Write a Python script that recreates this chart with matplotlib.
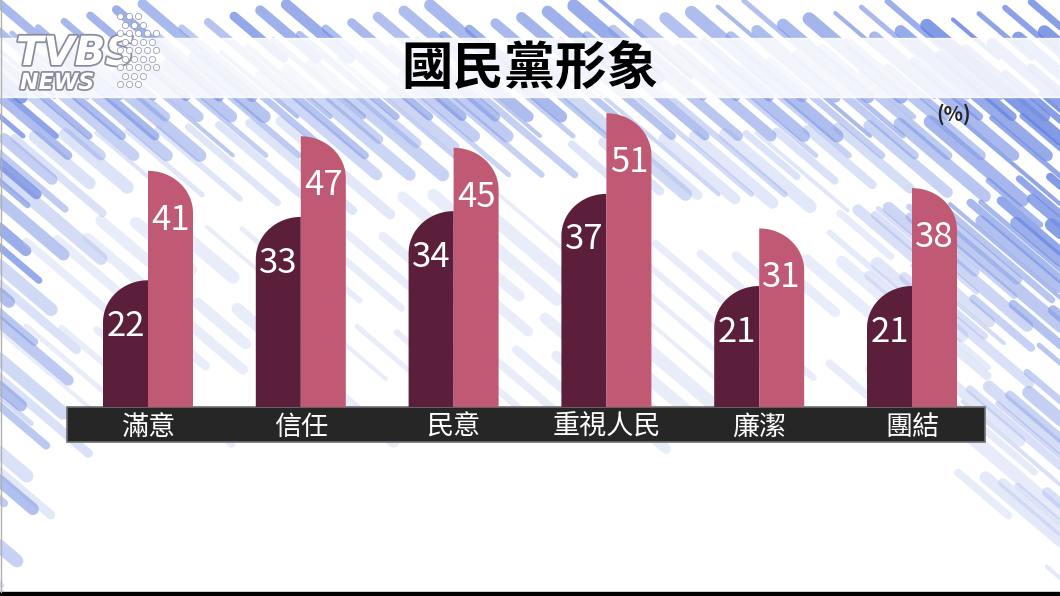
import matplotlib
matplotlib.use("Agg")
import matplotlib.pyplot as plt
import matplotlib.patheffects as pe
from matplotlib.patches import Rectangle
import numpy as np

plt.rcParams['font.family'] = ['Noto Sans CJK TC', 'DejaVu Sans']

# data (%)
categories = ['滿意', '信任', '民意', '重視人民', '廉潔', '團結']
dark_values = [22, 33, 34, 37, 21, 21]
pink_values = [41, 47, 45, 51, 31, 38]
title = '國民黨形象'
unit = '(%)'

DARK = '#5c1f3b'
PINK = '#c05a74'
W, H = 1060, 596

fig = plt.figure(figsize=(10.6, 5.96), dpi=100)

# background in pixel coordinates
bg = fig.add_axes([0, 0, 1, 1])
bg.set_xlim(0, W)
bg.set_ylim(H, 0)
bg.axis('off')
bg.add_patch(Rectangle((0, 0), W, H, color='white', zorder=0))


def clip01(v):
    return max(0.0, min(1.0, v))


def strength(x, y):
    top = clip01(1.05 - y / 190)
    left = clip01(1.0 - x / 120 - y / 620)
    right = clip01((x - 900) / 250 + 0.8 - y / 420)
    return max(top, left, right)


# diagonal streaks
slope = 0.85
dx = 1 / np.hypot(1, slope)
dy = slope * dx
for i in range(170):
    x0 = -720 + i * 11
    width = 4 + (i * 7) % 10
    seg_len = 60 + (i * 53) % 150
    gap = 25 + (i * 29) % 90
    t = (i * 37) % 120
    while t < 1400:
        sx, sy = x0 + t * dx, t * dy
        ex, ey = x0 + (t + seg_len) * dx, (t + seg_len) * dy
        mx, my = (sx + ex) / 2, (sy + ey) / 2
        s = strength(mx, my)
        if -50 < mx < W + 50 and my < H + 30:
            shade = (i * 13) % 5 / 4
            if s > 0.08:
                col = np.array([95, 125, 222]) * (0.55 + 0.45 * s) + \
                    np.array([205, 215, 245]) * (0.45 - 0.45 * s)
                col = col * (1 - 0.25 * shade) + np.array([180, 195, 240]) * 0.25 * shade
                bg.plot([sx, ex], [sy, ey], color=col / 255, lw=width * 0.72,
                        alpha=0.15 + 0.65 * s, solid_capstyle='round', zorder=1)
            elif (my < 420 or mx > 980) and i % 3 == 0:
                bg.plot([sx, ex], [sy, ey], color='#b8c6ee', lw=width * 0.72,
                        alpha=0.3, solid_capstyle='round', zorder=1)
        t += seg_len + gap

# title band
bg.add_patch(Rectangle((0, 38), W, 59, color='white', alpha=0.86, zorder=2))
bg.text(530, 68, title, ha='center', va='center', fontsize=37,
        fontweight='bold', color='black', zorder=5)
bg.text(954, 114, unit, ha='center', va='center', fontsize=14.5,
        fontweight='bold', color='#222222', zorder=5)

# logo
stroke = [pe.withStroke(linewidth=2.5, foreground='#8a8a9a')]
bg.text(16, 54, 'TVBS', fontsize=29, fontweight='heavy', style='italic',
        color='white', va='center', ha='left', zorder=6, path_effects=stroke,
        family='DejaVu Sans')
bg.text(20, 83, 'NEWS', fontsize=16, fontweight='bold', style='italic',
        color='white', va='center', ha='left', zorder=6, path_effects=stroke,
        family='DejaVu Sans')
dots_x, dots_y = [], []
for r in range(-4, 5):
    yy = 50 + r * 8.5
    for c in range(6):
        xx = 120 + c * 9 + (r % 2) * 4.5
        if (xx - 120) ** 2 + (yy - 50) ** 2 <= 40 ** 2:
            dots_x.append(xx)
            dots_y.append(yy)
bg.scatter(dots_x, dots_y, s=20, color='white', edgecolor='#9aa0b8',
           linewidth=0.6, zorder=6)

# category strip
bg.add_patch(Rectangle((67, 407), 918, 35, facecolor='#262626',
                       edgecolor='#707070', lw=1.2, zorder=3))
bg.add_patch(Rectangle((0, 592), W, 4, color='black', zorder=7))
bg.plot([0.5, 0.5], [0, 592], color='#b0b0b0', lw=1, zorder=7)

# bars
px_per_unit = 5.76
ax = fig.add_axes([67 / W, 1 - 407 / H, 918 / W, 60 * px_per_unit / H])
ax.patch.set_alpha(0)
ax.axis('off')
ax.set_ylim(0, 60)
ax.set_xlim((67 - 148) / 152.8, (985 - 148) / 152.8)

bw = 45 / 152.8
ry = 42 / px_per_unit
t = np.linspace(0, np.pi / 2, 40)
x = np.arange(len(categories))
for i, (d, p) in enumerate(zip(dark_values, pink_values)):
    # dark bar, rounded top-left
    x1 = x[i]
    xs = [x1, x1] + list(x1 - bw * np.sin(t)) + [x1 - bw, x1 - bw]
    ys = [0, d] + list(d - ry + ry * np.cos(t)) + [d - ry, 0]
    ax.fill(xs, ys, color=DARK, lw=0, zorder=3)
    # pink bar, rounded top-right
    x0 = x[i]
    xs = [x0, x0] + list(x0 + bw * np.sin(t)) + [x0 + bw, x0 + bw]
    ys = [0, p] + list(p - ry + ry * np.cos(t)) + [p - ry, 0]
    ax.fill(xs, ys, color=PINK, lw=0, zorder=3)

    ax.text(x[i] - bw / 2, d - 8.0, str(d), ha='center', va='center',
            fontsize=25, color='white', zorder=4)
    ax.text(x[i] + bw / 2, p - 8.6, str(p), ha='center', va='center',
            fontsize=25, color='white', zorder=4)
    ax.text(x[i], -3.5, categories[i], ha='center', va='center',
            fontsize=19.5, color='white', clip_on=False, zorder=5)

fig.savefig('out.png', dpi=100)
